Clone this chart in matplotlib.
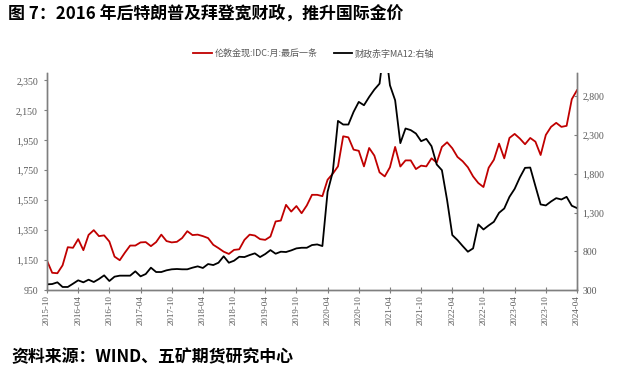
import matplotlib
matplotlib.use("Agg")
import matplotlib.pyplot as plt
import pandas as pd
from matplotlib.ticker import FuncFormatter, FixedLocator

plt.rcParams['font.family'] = ['Noto Sans CJK SC', 'DejaVu Sans']

months = [p.strftime('%Y-%m') for p in pd.period_range('2015-10', '2024-04', freq='M')]

gold = [1146, 1065, 1062, 1115, 1236, 1232, 1290, 1216, 1318, 1350, 1310, 1315,
        1274, 1173, 1149, 1200, 1247, 1247, 1268, 1270, 1243, 1270, 1320, 1277,
        1268, 1272, 1297, 1343, 1317, 1320, 1310, 1297, 1252, 1230, 1206, 1191,
        1218, 1222, 1285, 1320, 1314, 1290, 1285, 1307, 1408, 1414, 1519, 1474,
        1511, 1463, 1515, 1586, 1586, 1577, 1687, 1727, 1776, 1977, 1970, 1888,
        1880, 1776, 1899, 1848, 1736, 1709, 1770, 1906, 1775, 1816, 1816, 1758,
        1781, 1776, 1830, 1801, 1906, 1937, 1897, 1839, 1810, 1770, 1709, 1665,
        1638, 1767, 1820, 1928, 1830, 1966, 1993, 1962, 1924, 1966, 1941, 1852,
        1986, 2040, 2067, 2040, 2047, 2225, 2285]

deficit = [373, 377, 399, 339, 339, 381, 425, 399, 433, 403, 442, 489,
           416, 472, 485, 485, 485, 541, 476, 506, 588, 532, 532, 554,
           567, 571, 567, 567, 588, 605, 584, 635, 622, 652, 735, 652,
           678, 729, 725, 751, 773, 725, 764, 815, 768, 794, 790, 811,
           837, 845, 845, 880, 888, 867, 1567, 1824, 2482, 2435, 2435, 2598,
           2727, 2684, 2791, 2886, 2963, 3500, 2942, 2748, 2195, 2384, 2363, 2319,
           2220, 2250, 2156, 1920, 1846, 1460, 1009, 944, 867, 794, 837, 1147,
           1081, 1133, 1180, 1296, 1352, 1502, 1605, 1752, 1876, 1880, 1640, 1404,
           1391, 1442, 1485, 1468, 1502, 1387, 1357]

left_ticks = [950, 1150, 1350, 1550, 1750, 1950, 2150, 2350]
right_ticks = [300, 800, 1300, 1800, 2300, 2800]

gold_label = '伦敦金现:IDC:月:最后一条'
deficit_label = '财政赤字MA12:右轴'
title = '图 7：2016 年后特朗普及拜登宽财政，推升国际金价'
source = '资料来源：WIND、五矿期货研究中心'

W, H = 625, 376
fig = plt.figure(figsize=(W / 100, H / 100), dpi=100)
ax = fig.add_axes([47 / W, 1 - 290 / H, (577 - 47) / W, (290 - 73) / H])
ax2 = ax.twinx()

x = list(range(len(months)))
red = '#C00000'
gray = '#595959'
l1, = ax.plot(x, gold, color=red, lw=1.3, label=gold_label)
l2, = ax2.plot(x, deficit, color='black', lw=1.3, label=deficit_label)

ax.set_xlim(0, len(months) - 1)
ax.set_ylim(950, 2400)
ax2.set_ylim(300, 3100)

fmt = FuncFormatter(lambda v, p: f'{int(v):,}')
ax.yaxis.set_major_locator(FixedLocator(left_ticks))
ax.yaxis.set_major_formatter(fmt)
ax2.yaxis.set_major_locator(FixedLocator(right_ticks))
ax2.yaxis.set_major_formatter(fmt)

xt = list(range(0, len(months), 6))
ax.set_xticks(xt)
ax.set_xticklabels([months[i] for i in xt], rotation=90, fontsize=6.5,
                   color=gray, family='Liberation Serif')

for a in (ax, ax2):
    a.spines['top'].set_visible(False)
    for s in ['left', 'right', 'bottom']:
        a.spines[s].set_color('#7f7f7f')
        a.spines[s].set_linewidth(1.0)

ax.tick_params(axis='y', direction='out', length=2.5, color='#7f7f7f',
               labelsize=7, labelcolor=gray, pad=4)
ax2.tick_params(axis='y', direction='in', length=2.5, color='#7f7f7f',
                labelsize=7, labelcolor=gray, pad=4)
ax.tick_params(axis='x', direction='inout', length=4, color='#7f7f7f', pad=2)
for lab in ax.get_yticklabels() + ax2.get_yticklabels():
    lab.set_family('Liberation Serif')

fig.legend(handles=[l1, l2], loc='center', bbox_to_anchor=(314 / W, 1 - 54 / H),
           ncol=2, frameon=False, fontsize=6.5, labelcolor=gray,
           handlelength=2.0, handletextpad=0.3, columnspacing=1.9)

fig.text(8 / W, 1 - 14 / H, title, fontsize=12.2, fontweight='bold',
         va='center', ha='left', color='black')
fig.text(11 / W, 1 - 357 / H, source, fontsize=12.2, fontweight='bold',
         va='center', ha='left', color='black')

fig.savefig('out.png', dpi=100)
